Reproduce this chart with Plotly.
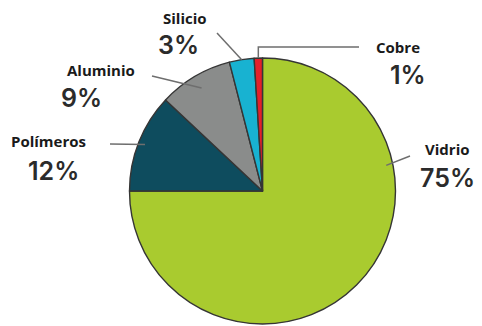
import math
import plotly.graph_objects as go

# Composition data (clockwise from 12 o'clock)
materials = ["Vidrio", "Polímeros", "Aluminio", "Silicio", "Cobre"]
shares = [75, 12, 9, 3, 1]
colors = ["#a9cb2f", "#0e4c5e", "#8a8c8b", "#18b2d1", "#e3202a"]

# Label placement (pixel centres of name / percentage) and leader-line anchors
name_pos = {"Vidrio": (447, 149), "Polímeros": (48, 141), "Aluminio": (101, 70),
            "Silicio": (185, 18), "Cobre": (398, 47)}
pct_pos = {"Vidrio": (447, 178), "Polímeros": (53, 171), "Aluminio": (81, 98),
           "Silicio": (178, 45), "Cobre": (408, 75)}
# fraction along each slice where its leader touches, and radius fraction of the tip
anchor_frac = {"Vidrio": 0.29, "Polímeros": 0.5, "Aluminio": 0.5, "Silicio": 0.5, "Cobre": 0.5}
anchor_r = {"Vidrio": 0.95, "Polímeros": 0.95, "Aluminio": 0.9, "Silicio": 1.0, "Cobre": 1.0}
leader_out = {"Vidrio": (410, 156), "Polímeros": (110, 144), "Aluminio": (152, 76),
              "Silicio": (217, 33)}

W, H = 482, 326
cx, cy, R = 262.5, 191, 133

def px(x):
    return x / W

def py(y):
    return 1 - y / H

fig = go.Figure(go.Pie(
    labels=materials, values=shares, sort=False, direction="clockwise", rotation=0,
    marker=dict(colors=colors, line=dict(color="#353535", width=1.4)),
    textinfo="none", hoverinfo="label+percent", showlegend=False,
    domain=dict(x=[px(cx - R), px(cx + R)], y=[py(cy + R), py(cy - R)]),
))

total = sum(shares)
shapes = []
start = 0.0
for m, v in zip(materials, shares):
    frac = (start + anchor_frac[m] * v) / total
    ang = 2 * math.pi * frac
    r = R * anchor_r[m]
    tx, ty = cx + r * math.sin(ang), cy - r * math.cos(ang)
    if m == "Cobre":
        # elbow leader: up from the slice, then across to the label
        pts = [(tx, ty), (tx, 47), (359, 47)]
    else:
        pts = [(tx, ty), leader_out[m]]
    path = "M " + " L ".join(f"{px(a)},{py(b)}" for a, b in pts)
    shapes.append(dict(type="path", path=path, xref="paper", yref="paper",
                       line=dict(color="#6e6e6e", width=1.5)))
    start += v

annotations = []
for m, v in zip(materials, shares):
    nx, ny = name_pos[m]
    annotations.append(dict(x=px(nx), y=py(ny), xref="paper", yref="paper", text=f"<b>{m}</b>",
                            showarrow=False, xanchor="center", yanchor="middle",
                            font=dict(family="Open Sans", size=15, color="#1a1a1a")))
    qx, qy = pct_pos[m]
    annotations.append(dict(x=px(qx), y=py(qy), xref="paper", yref="paper", text=f"{v}%",
                            showarrow=False, xanchor="center", yanchor="middle",
                            font=dict(family="Inter", size=25, color="#2b2b2b", weight=600)))

fig.update_layout(width=W, height=H, margin=dict(l=0, r=0, t=0, b=0),
                  paper_bgcolor="white", plot_bgcolor="white",
                  shapes=shapes, annotations=annotations)

fig.write_html("out.html")
